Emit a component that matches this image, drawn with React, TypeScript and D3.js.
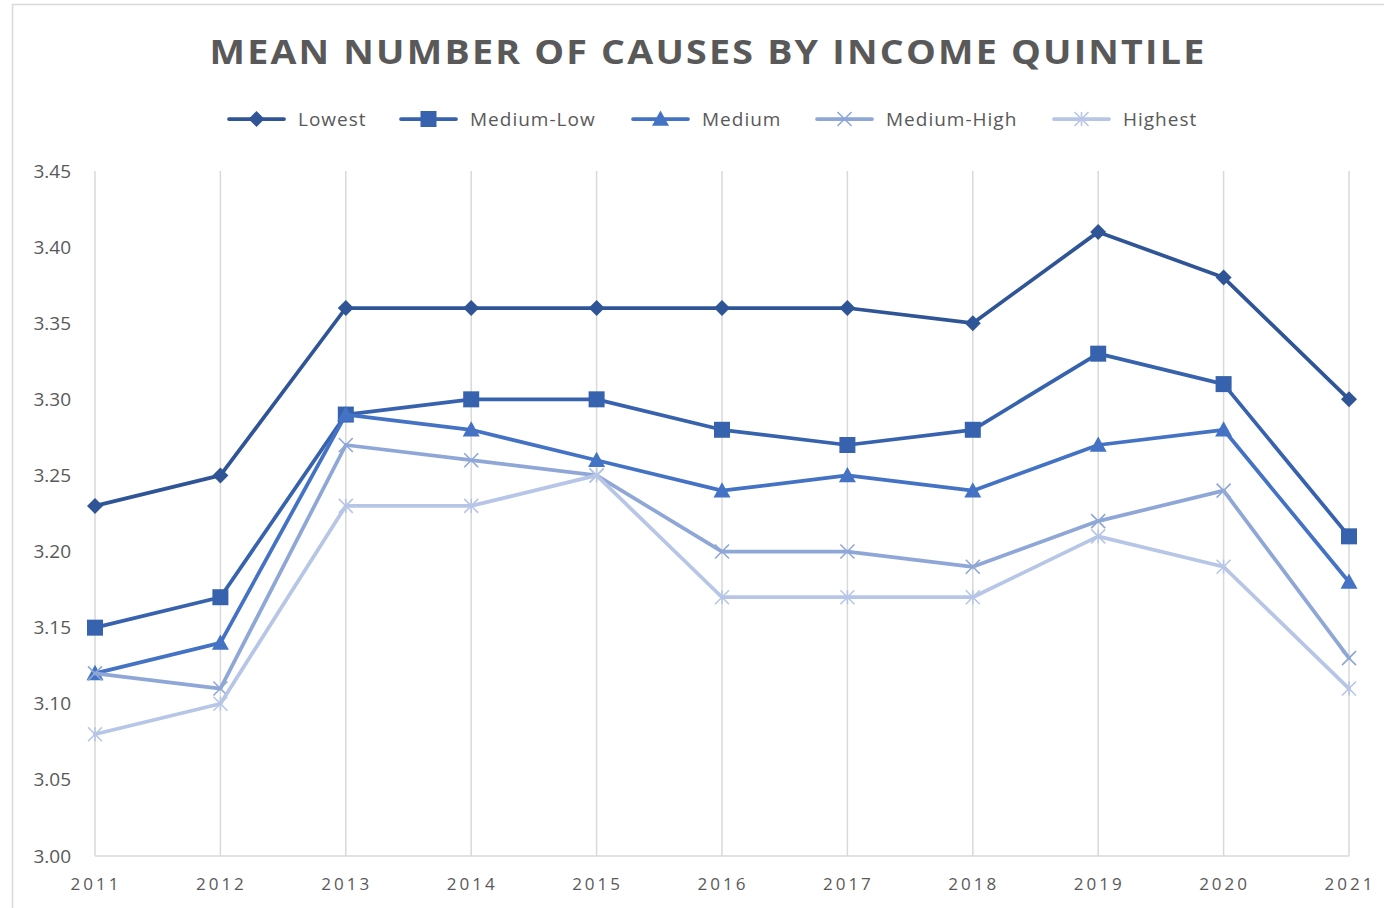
import React from "react";
import * as d3 from "d3";

const years = ["2011","2012","2013","2014","2015","2016","2017","2018","2019","2020","2021"];
const lowest = [3.23, 3.25, 3.36, 3.36, 3.36, 3.36, 3.36, 3.35, 3.41, 3.38, 3.30];
const mediumLow = [3.15, 3.17, 3.29, 3.30, 3.30, 3.28, 3.27, 3.28, 3.33, 3.31, 3.21];
const medium = [3.12, 3.14, 3.29, 3.28, 3.26, 3.24, 3.25, 3.24, 3.27, 3.28, 3.18];
const mediumHigh = [3.12, 3.11, 3.27, 3.26, 3.25, 3.20, 3.20, 3.19, 3.22, 3.24, 3.13];
const highest = [3.08, 3.10, 3.23, 3.23, 3.25, 3.17, 3.17, 3.17, 3.21, 3.19, 3.11];
const seriesNames = ["Lowest", "Medium-Low", "Medium", "Medium-High", "Highest"];
const yTicks = [3.0, 3.05, 3.1, 3.15, 3.2, 3.25, 3.3, 3.35, 3.4, 3.45];

const colors = ["#2F5597", "#3762AE", "#4472C4", "#8FA7D7", "#B7C6E6"];
const markers = ["diamond", "square", "triangle", "x", "star"];
const legendX = [229, 401, 633, 817, 1054];

function Marker({ type, x, y, color }: { type: string; x: number; y: number; color: string }) {
  if (type === "diamond") {
    const s = 8;
    return <path d={`M${x},${y - s}L${x + s},${y}L${x},${y + s}L${x - s},${y}Z`} fill={color} />;
  }
  if (type === "square") {
    const s = 8;
    return <rect x={x - s} y={y - s} width={2 * s} height={2 * s} fill={color} />;
  }
  if (type === "triangle") {
    const s = 8.5;
    return <path d={`M${x},${y - s}L${x + s},${y + s * 0.8}L${x - s},${y + s * 0.8}Z`} fill={color} />;
  }
  if (type === "x") {
    const s = 7;
    return <path d={`M${x - s},${y - s}L${x + s},${y + s}M${x - s},${y + s}L${x + s},${y - s}`} stroke={color} strokeWidth={1.6} />;
  }
  const s = 7;
  return <path d={`M${x - s},${y - s}L${x + s},${y + s}M${x - s},${y + s}L${x + s},${y - s}M${x},${y - s}L${x},${y + s}`} stroke={color} strokeWidth={1.6} />;
}

export default function App() {
  const W = 1384, H = 908;
  const data = [lowest, mediumLow, medium, mediumHigh, highest];
  const x = d3.scalePoint<string>().domain(years).range([95, 1349]);
  const y = d3.scaleLinear().domain([3.0, 3.45]).range([856, 171]);
  const line = d3.line<number>().x((_, i) => x(years[i]) as number).y((d) => y(d));
  const font = "'Open Sans', 'Liberation Sans', sans-serif";
  const textColor = "#595959";

  return (
    <div style={{ position: "absolute", left: 0, top: 0 }}>
      <svg width={W} height={H} style={{ display: "block", background: "#fff" }}>
        <rect x={12.5} y={4.5} width={W} height={H} fill="#fff" stroke="#D9D9D9" strokeWidth={1.5} />
        <text x={708} y={64} textAnchor="middle" fontFamily={font} fontWeight={700} fontSize={34}
          fill={textColor} letterSpacing={2} textLength={997} lengthAdjust="spacingAndGlyphs">
          MEAN NUMBER OF CAUSES BY INCOME QUINTILE
        </text>
        {seriesNames.map((n, i) => (
          <g key={n}>
            <line x1={legendX[i]} x2={legendX[i] + 55} y1={119} y2={119} stroke={colors[i]} strokeWidth={3.75} strokeLinecap="round" />
            <Marker type={markers[i]} x={legendX[i] + 27.5} y={119} color={colors[i]} />
            <text x={legendX[i] + 69} y={126} fontFamily={font} fontSize={19} fill={textColor} letterSpacing={1}>{n}</text>
          </g>
        ))}
        {years.map((yr) => (
          <line key={yr} x1={x(yr)} x2={x(yr)} y1={171} y2={856} stroke="#D9D9D9" strokeWidth={1.5} />
        ))}
        <line x1={95} x2={1349} y1={856} y2={856} stroke="#D9D9D9" strokeWidth={1.5} />
        {yTicks.map((t) => (
          <text key={t} x={71} y={y(t) + 6.5} textAnchor="end" fontFamily={font} fontSize={19} fill={textColor}>
            {d3.format(".2f")(t)}
          </text>
        ))}
        {years.map((yr) => (
          <text key={yr} x={(x(yr) as number) + 1} y={890} textAnchor="middle" fontFamily={font} fontSize={17} fill={textColor} letterSpacing={3}>
            {yr}
          </text>
        ))}
        {data.map((vals, i) => (
          <g key={seriesNames[i]}>
            <path d={line(vals) || ""} fill="none" stroke={colors[i]} strokeWidth={3.75} strokeLinejoin="round" strokeLinecap="round" />
            {vals.map((v, j) => (
              <Marker key={j} type={markers[i]} x={x(years[j]) as number} y={y(v)} color={colors[i]} />
            ))}
          </g>
        ))}
      </svg>
    </div>
  );
}
